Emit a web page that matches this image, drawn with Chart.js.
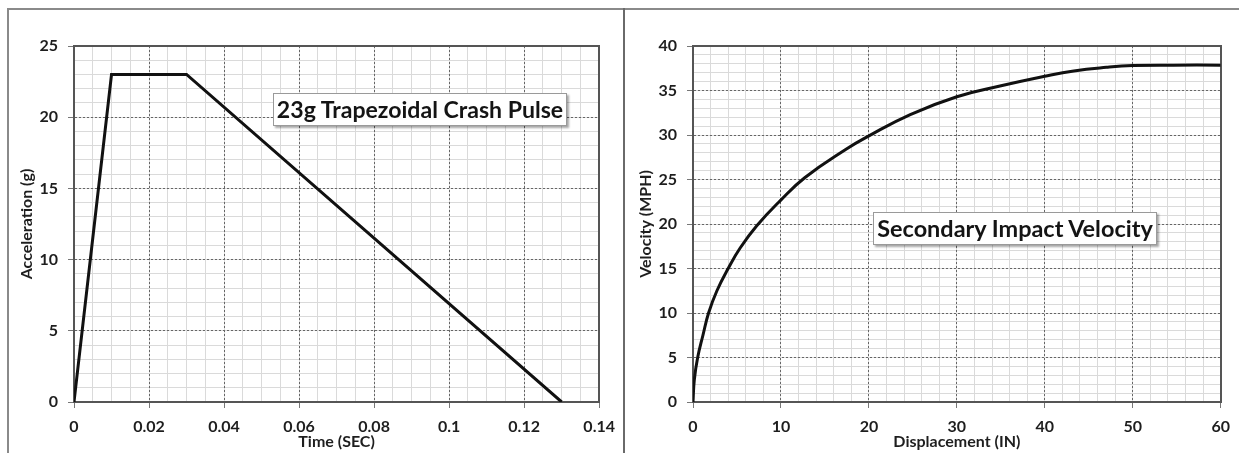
<!DOCTYPE html>
<html><head><meta charset="utf-8">
<script src="https://cdn.jsdelivr.net/npm/chart.js@4.4.0/dist/chart.umd.min.js"></script>
<style>
html,body{margin:0;padding:0;background:#fff;width:1239px;height:453px;overflow:hidden;position:relative;}
canvas{position:absolute;top:0;}
#c1{left:0;}
#c2{left:626px;}
.frame{position:absolute;background:#8a8a8a;z-index:5;}
.note{position:absolute;background:#fff;border:1px solid #9a9a9a;box-shadow:2px 2px 2px rgba(0,0,0,0.35);
  font-family:Lato, sans-serif;font-weight:bold;color:#141414;white-space:nowrap;text-align:center;box-sizing:border-box;z-index:6;}
</style></head><body>
<canvas id="c1" width="624" height="453" style="width:624px;height:453px"></canvas>
<canvas id="c2" width="613" height="453" style="width:613px;height:453px"></canvas>
<div class="frame" style="left:7px;top:8px;width:1232px;height:2px"></div>
<div class="frame" style="left:7px;top:8px;width:2px;height:445px"></div>
<div class="frame" style="left:623px;top:8px;width:2px;height:445px;background:#6a6a6a"></div>
<div class="note" id="n1" style="left:273px;top:93px;width:294px;height:33px;line-height:31px">23g Trapezoidal Crash Pulse</div>
<div class="note" id="n2" style="left:873px;top:212px;width:284px;height:33px;line-height:31px">Secondary Impact Velocity</div>
<script>
// ---- data ----
const pulseTime = [0, 0.01, 0.03, 0.13];          // SEC
const pulseAccel = [0, 23, 23, 0];                // g
const dispIn = [0, 0.15, 0.53, 1.13, 1.77, 2.72, 4.0, 5.36, 7.25, 9.9, 12.7, 17.4, 20, 24.7, 30, 34.9, 40, 43.3, 47, 50, 54.6, 60];
const velMph = [0, 2.5, 5, 7.5, 10, 12.5, 15, 17.3, 19.8, 22.6, 25.2, 28.4, 29.9, 32.3, 34.3, 35.5, 36.6, 37.2, 37.6, 37.8, 37.85, 37.85];
const leftTitles = {x: 'Time (SEC)', y: 'Acceleration (g)'};
const rightTitles = {x: 'Displacement (IN)', y: 'Velocity (MPH)'};

// fit annotation font sizes
(function(){
  const cv = document.createElement('canvas').getContext('2d');
  [['n1', 287], ['n2', 277]].forEach(([id, w]) => {
    const el = document.getElementById(id);
    cv.font = 'bold 100px Lato';
    const m = cv.measureText(el.textContent).width;
    el.style.fontSize = (100 * w / m).toFixed(2) + 'px';
  });
})();

const FONT = 'Lato';
const TXT = '#1e1e1e';
const fmt = v => String(Number(Number(v).toFixed(4)));

function build(id, xs, ys, c) {
  const data = xs.map((x, i) => ({x, y: ys[i]}));
  new Chart(document.getElementById(id), {
    type: 'line',
    data: {datasets: [{data, borderColor: '#111', borderWidth: 3, pointRadius: 0,
      tension: c.smooth ? 0.45 : 0, fill: false}]},
    options: {
      responsive: false, animation: false,
      layout: {padding: {top: 46, right: c.padRight, left: 0, bottom: 0}},
      plugins: {legend: {display: false}, tooltip: {enabled: false}},
      scales: {
        x: {type: 'linear', position: 'bottom', min: c.xMin, max: c.xMax,
          ticks: {stepSize: c.xMajor, maxTicksLimit: 1000, callback: fmt, color: TXT, padding: 9,
            font: {family: FONT, size: 16, weight: 'bold'}, maxRotation: 0},
          grid: {color: '#666', tickLength: 6, tickColor: '#777', z: -1},
          border: {display: true, color: '#555', width: 2, dash: [2, 2]},
          title: {display: true, text: c.xTitle, color: TXT, padding: {top: 0, bottom: 2},
            font: {family: FONT, size: 16, weight: 'bold'}},
          afterFit: s => { s.height = 51; }},
        y: {type: 'linear', position: 'left', min: c.yMin, max: c.yMax,
          ticks: {stepSize: c.yMajor, maxTicksLimit: 1000, callback: fmt, color: TXT, padding: 10,
            font: {family: FONT, size: 16, weight: 'bold'}},
          grid: {color: '#666', tickLength: 6, tickColor: '#777', z: -1},
          border: {display: true, color: '#555', width: 2, dash: [2, 2]},
          title: {display: true, text: c.yTitle, color: TXT, padding: {top: c.yTitlePad, bottom: 0},
            font: {family: FONT, size: 16, weight: 'bold'}},
          afterFit: s => { s.width = c.yWidth; }},
        xm: {type: 'linear', position: 'top', min: c.xMin, max: c.xMax,
          ticks: {display: false, stepSize: c.xMinor, maxTicksLimit: 1000},
          grid: {color: '#dadada', drawTicks: false, z: -2},
          border: {display: true, color: '#555', width: 2},
          afterFit: s => { s.height = 0; }},
        ym: {type: 'linear', position: 'right', min: c.yMin, max: c.yMax,
          ticks: {display: false, stepSize: c.yMinor, maxTicksLimit: 1000},
          grid: {color: '#dadada', drawTicks: false, z: -2},
          border: {display: true, color: '#555', width: 2},
          afterFit: s => { s.width = 0; }}
      }
    }
  });
}

build('c1', pulseTime, pulseAccel, {xMin: 0, xMax: 0.14, xMajor: 0.02, xMinor: 0.005,
  yMin: 0, yMax: 25, yMajor: 5, yMinor: 1, xTitle: leftTitles.x, yTitle: leftTitles.y,
  yWidth: 74, padRight: 21, yTitlePad: 17, smooth: false});
build('c2', dispIn, velMph, {xMin: 0, xMax: 60, xMajor: 10, xMinor: 2,
  yMin: 0, yMax: 40, yMajor: 5, yMinor: 1, xTitle: rightTitles.x, yTitle: rightTitles.y,
  yWidth: 67, padRight: 18, yTitlePad: 10, smooth: true});
</script>
</body></html>
